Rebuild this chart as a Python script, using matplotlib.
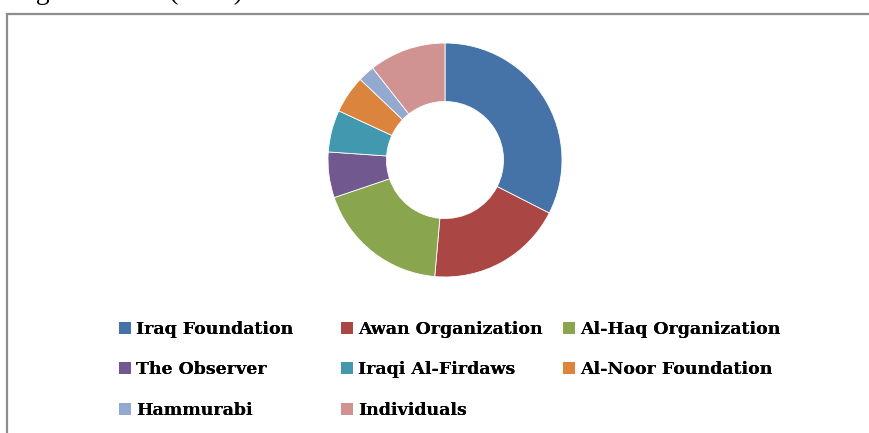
import matplotlib
matplotlib.use("Agg")
import matplotlib.pyplot as plt
from matplotlib.patches import Patch, Rectangle

categories = ["Iraq Foundation", "Awan Organization", "Al-Haq Organization",
              "The Observer", "Iraqi Al-Firdaws", "Al-Noor Foundation",
              "Hammurabi", "Individuals"]
values = [32.5, 18.9, 18.4, 6.3, 5.8, 5.2, 2.3, 10.6]
colors = ["#4572A7", "#AA4643", "#89A54E", "#71588F",
          "#4198AF", "#DB843D", "#93A9CF", "#D19392"]
title_text = "Distribution of aid by organizations (2010)"

W, H = 869, 433
fig = plt.figure(figsize=(W / 100, H / 100), dpi=100)
fig.patch.set_facecolor("white")

# chart border (extends beyond the right and bottom edges)
fig.add_artist(Rectangle((7 / W, -0.1), 1.2, (H - 14) / H + 0.1,
                         transform=fig.transFigure, fill=False,
                         edgecolor="#8c8c8c", linewidth=1.6))

# cropped title text (only descenders visible, as in the reference)
fig.text(243 / W, 1 + 1 / H, title_text, ha="right", va="baseline",
         fontsize=20, family="Liberation Serif", color="black")

# donut
cx, cy, r = 445, 160, 117
ax = fig.add_axes([(cx - r) / W, (H - cy - r) / H, 2 * r / W, 2 * r / H])
ax.pie(values, colors=colors, startangle=90, counterclock=False, radius=1,
       wedgeprops=dict(width=0.5, edgecolor="white", linewidth=0.6))
ax.set_xlim(-1, 1)
ax.set_ylim(-1, 1)
ax.set_aspect("equal")
ax.axis("off")

# legend: three columns of equal width, filled row-wise
col_x = [119, 341, 563]
top_y = 321
handles = [Patch(facecolor=c, edgecolor="none") for c in colors]
for ci in range(3):
    idx = list(range(ci, len(categories), 3))
    leg = fig.legend([handles[i] for i in idx], [categories[i] for i in idx],
                     loc="upper left",
                     bbox_to_anchor=(col_x[ci] / W, 1 - top_y / H),
                     bbox_transform=fig.transFigure,
                     frameon=False, borderaxespad=0, borderpad=0,
                     handlelength=0.68, handleheight=0.68, handletextpad=0.3,
                     labelspacing=1.35,
                     prop=dict(family="DejaVu Serif", weight="bold", size=12.5))
    fig.add_artist(leg)

fig.savefig("out.png", dpi=100)
